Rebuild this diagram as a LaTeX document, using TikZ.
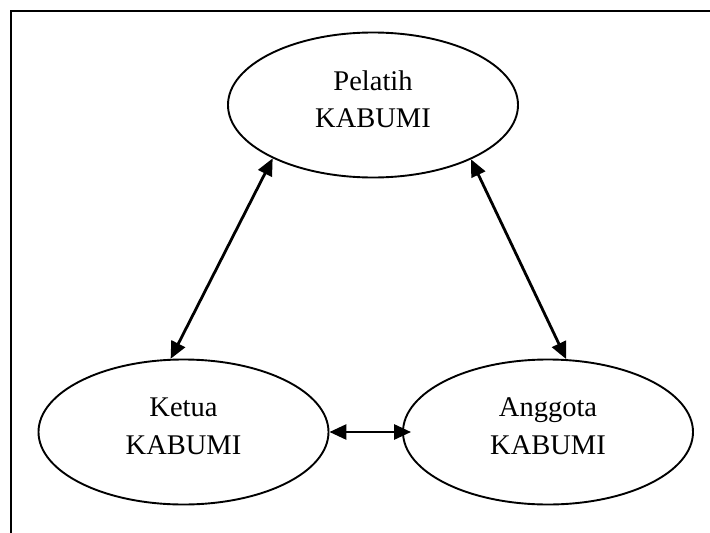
\documentclass[tikz,border=0pt]{standalone}
\usepackage{fontspec}
\setmainfont{Liberation Serif}
\usetikzlibrary{shapes.geometric,arrows.meta}

\begin{document}
\begin{tikzpicture}[x=1pt, y=-1pt,
  role/.style={ellipse, draw=black, line width=1.9pt, minimum width=290pt,
    minimum height=145pt, inner sep=0pt, align=center, text depth=12pt,
    font=\fontsize{28.5}{37.5}\selectfont},
  link/.style={line width=2.8pt,
    {Triangle[length=17pt,width=15pt]}-{Triangle[length=17pt,width=15pt]}}]

\useasboundingbox (0, 0) rectangle (710, 533);
\draw[line width=2.2pt] (11, 533) -- (11, 11) -- (710, 11);

\node[role] (pelatih) at (373, 105) {Pelatih\\KABUMI};
\node[role] (ketua) at (183.5, 432) {Ketua\\KABUMI};
\node[role] (anggota) at (548, 432) {Anggota\\KABUMI};

\draw[link] (ketua.100) -- (pelatih.208);
\draw[link] (anggota.76) -- (pelatih.331);
\draw[link, shorten >=-9pt] (ketua.east) -- (anggota.west);

\end{tikzpicture}
\end{document}
